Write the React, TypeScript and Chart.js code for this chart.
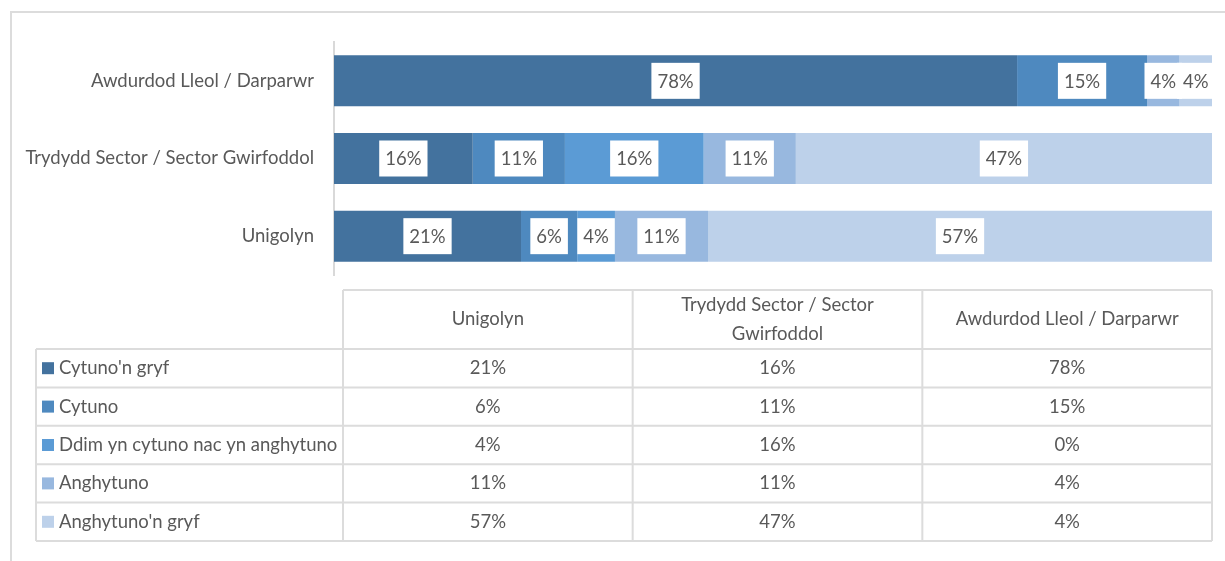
import React, { useEffect, useRef } from 'react';
import { Chart, registerables } from 'chart.js';

Chart.register(...registerables);

const categories = ['Unigolyn', 'Trydydd Sector / Sector Gwirfoddol', 'Awdurdod Lleol / Darparwr'];
const headerLines = [['Unigolyn'], ['Trydydd Sector / Sector', 'Gwirfoddol'], ['Awdurdod Lleol / Darparwr']];
const seriesNames = ["Cytuno'n gryf", 'Cytuno', 'Ddim yn cytuno nac yn anghytuno', 'Anghytuno', "Anghytuno'n gryf"];
const seriesColors = ['#43729e', '#4e89bf', '#5b9bd5', '#98b8df', '#bdd1ea'];
const stronglyAgree = [21.3, 15.8, 77.8];
const agree = [6.4, 10.5, 14.8];
const neutral = [4.3, 15.8, 0];
const disagree = [10.6, 10.5, 3.7];
const stronglyDisagree = [57.4, 47.4, 3.7];
const seriesValues = [stronglyAgree, agree, neutral, disagree, stronglyDisagree];

const FONT = 'Lato, "Liberation Sans", sans-serif';
const FS = 18.5;
const TEXT = '#595959';
const LINE = '#dcdcdc';

const labelPlugin = {
  id: 'boxLabels',
  afterDatasetsDraw(chart: any) {
    const ctx = chart.ctx;
    ctx.save();
    ctx.font = `${FS}px ${FONT}`;
    ctx.textAlign = 'center';
    ctx.textBaseline = 'middle';
    chart.data.datasets.forEach((ds: any, di: number) => {
      const meta = chart.getDatasetMeta(di);
      meta.data.forEach((bar: any, i: number) => {
        const v = ds.data[i];
        if (!v) return;
        const txt = Math.round(v) + '%';
        const cx = (bar.x + bar.base) / 2;
        const cy = bar.y;
        const w = ctx.measureText(txt).width + 12;
        const h = 36;
        ctx.fillStyle = '#ffffff';
        ctx.fillRect(cx - w / 2, cy - h / 2, w, h);
        ctx.fillStyle = TEXT;
        ctx.fillText(txt, cx, cy + 1);
      });
    });
    ctx.restore();
  },
};

const tablePlugin = {
  id: 'dataTable',
  afterDraw(chart: any) {
    const ctx = chart.ctx;
    const area = chart.chartArea;
    const tLeft = 36;
    const firstCol = 343;
    const right = area.right;
    const headTop = 290;
    const rowTop = 349;
    const rowH = 38.4;
    const n = categories.length;
    const colW = (right - firstCol) / n;
    const bottom = rowTop + rowH * seriesNames.length;
    ctx.save();
    ctx.strokeStyle = LINE;
    ctx.lineWidth = 2;
    ctx.beginPath();
    ctx.moveTo(11, 561);
    ctx.lineTo(11, 12);
    ctx.lineTo(1225, 12);
    ctx.stroke();
    ctx.beginPath();
    ctx.moveTo(firstCol, headTop);
    ctx.lineTo(right, headTop);
    for (let r = 0; r <= seriesNames.length; r++) {
      const y = rowTop + r * rowH;
      ctx.moveTo(tLeft, y);
      ctx.lineTo(right, y);
    }
    ctx.moveTo(tLeft, rowTop);
    ctx.lineTo(tLeft, bottom);
    for (let c = 0; c <= n; c++) {
      const x = firstCol + c * colW;
      ctx.moveTo(x, headTop);
      ctx.lineTo(x, bottom);
    }
    ctx.stroke();
    ctx.font = `${FS}px ${FONT}`;
    ctx.fillStyle = TEXT;
    ctx.textAlign = 'center';
    ctx.textBaseline = 'middle';
    const headMid = (headTop + rowTop) / 2;
    headerLines.forEach((lines, c) => {
      const cx = firstCol + (c + 0.5) * colW;
      const lh = 29;
      lines.forEach((ln, k) => {
        const y = headMid + (k - (lines.length - 1) / 2) * lh;
        ctx.fillText(ln, cx, y);
      });
    });
    seriesNames.forEach((name, r) => {
      const cy = rowTop + (r + 0.5) * rowH;
      ctx.fillStyle = seriesColors[r];
      ctx.fillRect(42, cy - 6, 12, 12);
      ctx.fillStyle = TEXT;
      ctx.textAlign = 'left';
      ctx.fillText(name, 59, cy);
      ctx.textAlign = 'center';
      seriesValues[r].forEach((v, c) => {
        const cx = firstCol + (c + 0.5) * colW;
        ctx.fillText(Math.round(v) + '%', cx, cy);
      });
    });
    ctx.restore();
  },
};

export default function App() {
  const ref = useRef<HTMLCanvasElement>(null);
  useEffect(() => {
    if (!ref.current) return;
    const chart = new Chart(ref.current, {
      type: 'bar',
      data: {
        labels: categories,
        datasets: seriesNames.map((name, i) => ({
          label: name,
          data: seriesValues[i],
          backgroundColor: seriesColors[i],
          borderWidth: 0,
          categoryPercentage: 1,
          barPercentage: 0.656,
        })),
      },
      options: {
        indexAxis: 'y',
        animation: false,
        responsive: false,
        layout: { padding: { top: 42, bottom: 286, right: 13, left: 0 } },
        plugins: { legend: { display: false }, tooltip: { enabled: false } },
        scales: {
          x: { stacked: true, min: 0, max: 100, display: false },
          y: {
            stacked: true,
            reverse: true,
            grid: { display: false, drawTicks: false },
            border: { display: true, color: '#d9d9d9', width: 2 },
            ticks: { color: TEXT, font: { family: FONT, size: FS }, padding: 20 },
            afterFit: (s: any) => {
              s.width = 334;
            },
          },
        },
      },
      plugins: [labelPlugin, tablePlugin],
    });
    return () => chart.destroy();
  }, []);
  return (
    <div style={{ position: 'absolute', left: 0, top: 0, width: 1225, height: 561, background: '#fff' }}>
      <canvas ref={ref} width={1225} height={561} />
    </div>
  );
}
